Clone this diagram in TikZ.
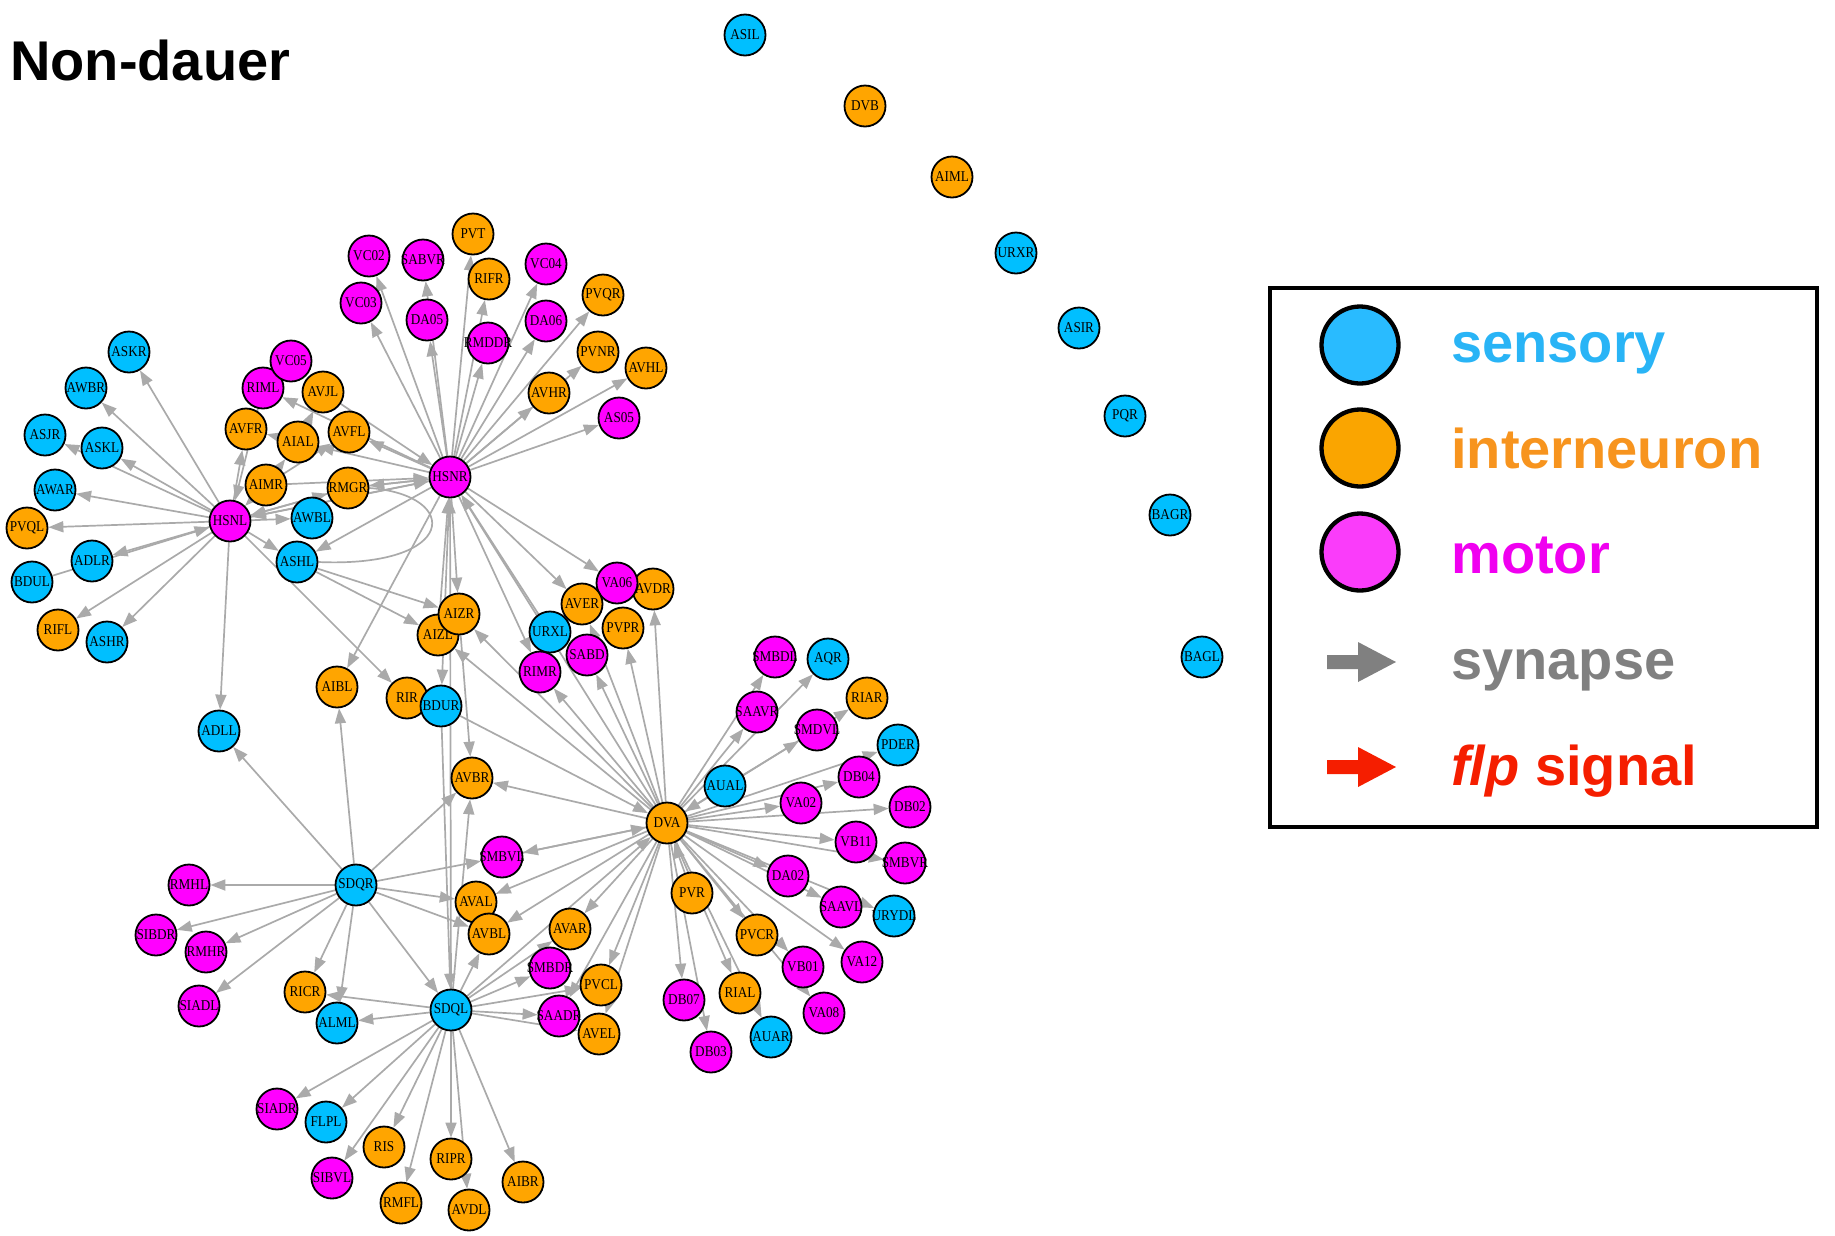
\documentclass[tikz,border=0pt]{standalone}
\usepackage{fontspec}
\setmainfont{Liberation Serif}
\newfontfamily\labfont[FakeStretch=0.88]{Liberation Serif}
\newfontfamily\keyfont{Liberation Sans}
\usetikzlibrary{arrows.meta, backgrounds}

\definecolor{sensblue}{RGB}{0,191,255}
\definecolor{interorg}{RGB}{255,165,0}
\definecolor{motmag}{RGB}{255,0,255}
\definecolor{edgegray}{RGB}{170,170,170}
\definecolor{keyblue}{RGB}{41,180,246}
\definecolor{keyorange}{RGB}{247,148,30}
\definecolor{keymag}{RGB}{240,0,240}
\definecolor{keycircblue}{RGB}{41,187,255}
\definecolor{keycircorg}{RGB}{250,165,0}
\definecolor{keycircmag}{RGB}{250,60,250}
\definecolor{keygray}{RGB}{128,128,128}
\definecolor{keyred}{RGB}{245,30,0}

\newcommand{\nlab}[1]{\makebox[0pt]{#1}}

\tikzset{
  neuron/.style={circle, draw=black, line width=1.8pt, minimum size=41pt, inner sep=0pt,
    font=\labfont\fontsize{15}{15}\selectfont},
  sens/.style={neuron, fill=sensblue},
  inter/.style={neuron, fill=interorg},
  mot/.style={neuron, fill=motmag},
  syn/.style={draw=edgegray, line width=1.7pt, -{Triangle[length=15pt,width=11pt]}},
  synline/.style={draw=edgegray, line width=1.7pt},
  keycirc/.style={circle, draw=black, line width=4.3pt, minimum size=77pt, inner sep=0pt},
  keytxt/.style={anchor=base west, inner sep=0pt, font=\keyfont\bfseries\fontsize{56}{56}\selectfont}
}

\begin{document}
\begin{tikzpicture}[x=1pt, y=-1pt]
  \useasboundingbox (0,0) rectangle (1835,1235);

  % title
  \node[anchor=base west, inner sep=0pt, font=\keyfont\bfseries\fontsize{56}{56}\selectfont] (ttl) at (10,80) {Non-dauer};

  % unconnected neurons, top right
  \node[sens]  (ASIL) at (745,35)   {\nlab{ASIL}};
  \node[inter] (DVB)  at (865,106)  {\nlab{DVB}};
  \node[inter] (AIML) at (952,177)  {\nlab{AIML}};
  \node[sens]  (URXR) at (1016,253) {\nlab{URXR}};
  \node[sens]  (ASIR) at (1079,328) {\nlab{ASIR}};
  \node[sens]  (PQR)  at (1125,416) {\nlab{PQR}};
  \node[sens]  (BAGR) at (1170,515) {\nlab{BAGR}};
  \node[sens]  (BAGL) at (1202,657) {\nlab{BAGL}};

  % HSNL neighbourhood
  \node[sens]  (ASKR) at (129,352) {\nlab{ASKR}};
  \node[sens]  (AWBR) at (86,388)  {\nlab{AWBR}};
  \node[sens]  (ASJR) at (45,435)  {\nlab{ASJR}};
  \node[sens]  (ASKL) at (102,448) {\nlab{ASKL}};
  \node[sens]  (AWAR) at (55,490)  {\nlab{AWAR}};
  \node[inter] (PVQL) at (27,528)  {\nlab{PVQL}};
  \node[sens]  (ADLR) at (92,561)  {\nlab{ADLR}};
  \node[sens]  (BDUL) at (32,582)  {\nlab{BDUL}};
  \node[inter] (RIFL) at (58,630)  {\nlab{RIFL}};
  \node[sens]  (ASHR) at (107,642) {\nlab{ASHR}};
  \node[mot]   (HSNL) at (230,521) {\nlab{HSNL}};
  \node[sens]  (ADLL) at (219,731) {\nlab{ADLL}};
  \node[mot]   (RIML) at (263,388) {\nlab{RIML}};
  \node[mot]   (VC05) at (291,361) {\nlab{VC05}};
  \node[inter] (AVJL) at (323,392) {\nlab{AVJL}};
  \node[inter] (AVFR) at (246,429) {\nlab{AVFR}};
  \node[inter] (AIAL) at (298,442) {\nlab{AIAL}};
  \node[inter] (AVFL) at (349,432) {\nlab{AVFL}};
  \node[inter] (AIMR) at (266,485) {\nlab{AIMR}};
  \node[inter] (RMGR) at (348,488) {\nlab{RMGR}};
  \node[sens]  (AWBL) at (312,518) {\nlab{AWBL}};
  \node[sens]  (ASHL) at (297,562) {\nlab{ASHL}};

  % HSNR neighbourhood
  \node[mot]   (HSNR)  at (450,477) {\nlab{HSNR}};
  \node[mot]   (VC02)  at (369,256) {\nlab{VC02}};
  \node[mot]   (SABVR) at (423,260) {\nlab{SABVR}};
  \node[inter] (PVT)   at (473,234) {\nlab{PVT}};
  \node[inter] (RIFR)  at (489,279) {\nlab{RIFR}};
  \node[mot]   (VC04)  at (546,264) {\nlab{VC04}};
  \node[mot]   (VC03)  at (361,303) {\nlab{VC03}};
  \node[mot]   (DA05)  at (427,320) {\nlab{DA05}};
  \node[mot]   (RMDDR) at (488,343) {\nlab{RMDDR}};
  \node[mot]   (DA06)  at (546,321) {\nlab{DA06}};
  \node[inter] (PVQR)  at (603,295) {\nlab{PVQR}};
  \node[inter] (PVNR)  at (598,352) {\nlab{PVNR}};
  \node[inter] (AVHL)  at (646,368) {\nlab{AVHL}};
  \node[inter] (AVHR)  at (549,393) {\nlab{AVHR}};
  \node[mot]   (AS05)  at (619,418) {\nlab{AS05}};
  \node[inter] (AIZL)  at (438,635) {\nlab{AIZL}};
  \node[inter] (AIZR)  at (459,614) {\nlab{AIZR}};
  \node[inter] (AIBL)  at (337,687) {\nlab{AIBL}};
  \node[inter] (RIR)   at (407,698) {\nlab{RIR}};
  \node[sens]  (BDUR)  at (441,706) {\nlab{BDUR}};
  \node[inter] (AVDR)  at (653,589) {\nlab{AVDR}};
  \node[mot]   (VA06)  at (617,583) {\nlab{VA06}};
  \node[sens]  (URXL)  at (550,632) {\nlab{URXL}};
  \node[inter] (AVER)  at (582,604) {\nlab{AVER}};
  \node[inter] (PVPR)  at (623,628) {\nlab{PVPR}};
  \node[mot]   (SABD)  at (587,655) {\nlab{SABD}};
  \node[mot]   (RIMR)  at (540,672) {\nlab{RIMR}};

  % DVA neighbourhood
  \node[inter] (DVA)   at (667,823)  {\nlab{DVA}};
  \node[inter] (AVBR)  at (472,778)  {\nlab{AVBR}};
  \node[mot]   (SMBDL) at (775,657)  {\nlab{SMBDL}};
  \node[sens]  (AQR)   at (828,659)  {\nlab{AQR}};
  \node[inter] (RIAR)  at (867,698)  {\nlab{RIAR}};
  \node[mot]   (SAAVR) at (757,712)  {\nlab{SAAVR}};
  \node[mot]   (SMDVL) at (817,730)  {\nlab{SMDVL}};
  \node[sens]  (PDER)  at (898,745)  {\nlab{PDER}};
  \node[mot]   (DB04)  at (859,777)  {\nlab{DB04}};
  \node[sens]  (AUAL)  at (725,786)  {\nlab{AUAL}};
  \node[mot]   (VA02)  at (801,803)  {\nlab{VA02}};
  \node[mot]   (DB02)  at (910,807)  {\nlab{DB02}};
  \node[mot]   (VB11)  at (856,842)  {\nlab{VB11}};
  \node[mot]   (SMBVR) at (905,863)  {\nlab{SMBVR}};
  \node[mot]   (DA02)  at (788,876)  {\nlab{DA02}};
  \node[inter] (PVR)   at (692,893)  {\nlab{PVR}};
  \node[sens]  (URYDL) at (894,916)  {\nlab{URYDL}};
  \node[mot]   (SAAVL) at (841,907)  {\nlab{SAAVL}};
  \node[inter] (PVCR)  at (757,935)  {\nlab{PVCR}};
  \node[mot]   (VB01)  at (803,967)  {\nlab{VB01}};
  \node[mot]   (VA12)  at (862,962)  {\nlab{VA12}};
  \node[mot]   (DB07)  at (684,1000) {\nlab{DB07}};
  \node[inter] (RIAL)  at (740,993)  {\nlab{RIAL}};
  \node[mot]   (VA08)  at (824,1013) {\nlab{VA08}};
  \node[mot]   (DB03)  at (711,1052) {\nlab{DB03}};
  \node[sens]  (AUAR)  at (771,1037) {\nlab{AUAR}};

  % SDQR / SDQL neighbourhood
  \node[sens]  (SDQR)  at (356,885)  {\nlab{SDQR}};
  \node[mot]   (SMBVL) at (502,857)  {\nlab{SMBVL}};
  \node[mot]   (RMHL)  at (189,885)  {\nlab{RMHL}};
  \node[inter] (AVAL)  at (476,902)  {\nlab{AVAL}};
  \node[inter] (AVBL)  at (489,934)  {\nlab{AVBL}};
  \node[mot]   (SIBDR) at (156,935)  {\nlab{SIBDR}};
  \node[mot]   (RMHR)  at (206,952)  {\nlab{RMHR}};
  \node[inter] (AVAR)  at (570,929)  {\nlab{AVAR}};
  \node[mot]   (SMBDR) at (550,968)  {\nlab{SMBDR}};
  \node[inter] (PVCL)  at (601,985)  {\nlab{PVCL}};
  \node[inter] (RICR)  at (305,992)  {\nlab{RICR}};
  \node[mot]   (SIADL) at (199,1006) {\nlab{SIADL}};
  \node[sens]  (SDQL)  at (451,1010) {\nlab{SDQL}};
  \node[sens]  (ALML)  at (337,1023) {\nlab{ALML}};
  \node[mot]   (SAADR) at (559,1016) {\nlab{SAADR}};
  \node[inter] (AVEL)  at (599,1034) {\nlab{AVEL}};
  \node[mot]   (SIADR) at (277,1109) {\nlab{SIADR}};
  \node[sens]  (FLPL)  at (326,1122) {\nlab{FLPL}};
  \node[inter] (RIS)   at (384,1147) {\nlab{RIS}};
  \node[mot]   (SIBVL) at (332,1178) {\nlab{SIBVL}};
  \node[inter] (RIPR)  at (451,1159) {\nlab{RIPR}};
  \node[inter] (AIBR)  at (523,1182) {\nlab{AIBR}};
  \node[inter] (RMFL)  at (401,1203) {\nlab{RMFL}};
  \node[inter] (AVDL)  at (469,1210) {\nlab{AVDL}};

  % synapses (behind the neurons)
  \begin{scope}[on background layer]
    % HSNL
    \foreach \t in {ASKR,AWBR,ASJR,ASKL,AWAR,PVQL,ADLR,RIFL,ASHR,ADLL,AVFR,AWBL,RMGR,ASHL,HSNR,RIR}
      \draw[syn] (HSNL) -- (\t);
    \foreach \s in {BDUL,RIML,AIMR,RMGR,HSNR}
      \draw[syn] (\s) -- (HSNL);
    \draw[syn] (ASHL) -- (AIZR);
    \draw[syn] (ASHL) -- (AIZL);
    \draw[syn] (AIAL) -- (AVJL);
    \draw[syn] (AIAL) -- (AVFR);
    \draw[syn] (AIMR) -- (AIAL);
    \draw[syn] (AIMR) -- (AVFL);
    \draw[synline] (RMGR.east) .. controls (462,495) and (458,568) .. (ASHL.east);
    % HSNR
    \foreach \t in {RMGR,AVFL,AIAL,RIML,ASHL,VC02,VC03,SABVR,DA05,PVT,RIFR,RMDDR,VC04,DA06,PVQR,AVHR,PVNR,AVHL,AS05,AIZR,BDUR,AIBL,VA06,AVER,RIMR}
      \draw[syn] (HSNR) -- (\t);
    \foreach \s in {AIMR,RMGR,AVJL,AIZL,URXL,DVA,SDQL}
      \draw[syn] (\s) -- (HSNR);
    \draw[syn] (AIZR) -- (AVBR);
    % DVA
    \foreach \t in {AVDR,PVPR,SABD,RIMR,AVER,AIZR,AIZL,AVBR,SMBVL,AVAL,AVBL,AVAR,PVCL,AVEL,SAADR,
                    SAAVR,SMBDL,AQR,RIAR,PDER,DB04,VA02,DB02,VB11,SMBVR,DA02,SAAVL,URYDL,VA12,
                    PVCR,VB01,VA08,RIAL,AUAR,DB07,DB03}
      \draw[syn] (DVA) -- (\t);
    \foreach \s in {BDUR,SMBVL,AUAL,PVR,SDQL}
      \draw[syn] (\s) -- (DVA);
    \draw[syn] (AUAL) -- (SMDVL);
    % SDQR
    \foreach \t in {RMHL,SIBDR,RMHR,SIADL,RICR,ALML,SDQL,AVAL,AVBL,SMBVL,AVBR,ADLL,AIBL}
      \draw[syn] (SDQR) -- (\t);
    % SDQL
    \foreach \t in {RICR,ALML,SIADR,FLPL,SIBVL,RIS,RMFL,RIPR,AVDL,AIBR,AVBL,AVBR,AVAR,SMBDR,PVCL,SAADR,AVEL}
      \draw[syn] (SDQL) -- (\t);
    \draw[syn] (BDUR) -- (SDQL);
  \end{scope}

  % legend
  \draw[line width=3.5pt] (1270,288) rectangle (1817,827);
  \node[keycirc, fill=keycircblue] (ksens)  at (1360,345) {};
  \node[keycirc, fill=keycircorg]  (kinter) at (1360,448) {};
  \node[keycirc, fill=keycircmag]  (kmot)   at (1360,552) {};
  \fill[keygray] (1327,655) -- (1358,655) -- (1358,642) -- (1396,662)
    -- (1358,682) -- (1358,669) -- (1327,669) -- cycle;
  \fill[keyred] (1327,760) -- (1358,760) -- (1358,747) -- (1396,767)
    -- (1358,787) -- (1358,774) -- (1327,774) -- cycle;
  \node[keytxt, text=keyblue]   (tsens)  at (1451,362) {sensory};
  \node[keytxt, text=keyorange] (tinter) at (1451,468) {interneuron};
  \node[keytxt, text=keymag]    (tmot)   at (1451,573) {motor};
  \node[keytxt, text=keygray]   (tsyn)   at (1451,679) {synapse};
  \node[keytxt, text=keyred]    (tflp)   at (1451,785) {\textit{flp} signal};

\end{tikzpicture}
\end{document}
